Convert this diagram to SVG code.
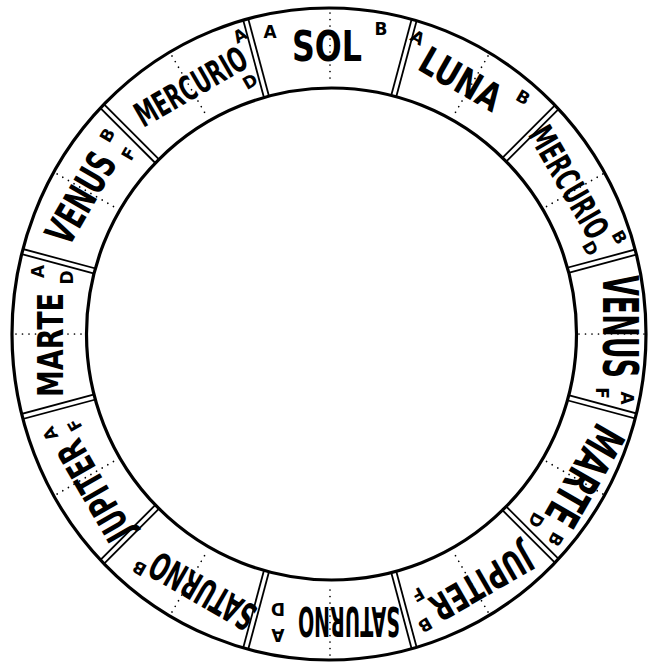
<svg xmlns="http://www.w3.org/2000/svg" width="649" height="665" viewBox="0 0 649 665">
<style>
.ring{fill:none;stroke:#000;stroke-width:3.2}
.dot{stroke:#000;stroke-width:1.7;stroke-linecap:round;stroke-dasharray:0 6.5;fill:none}
.name{font-family:"DejaVu Sans Condensed","DejaVu Sans",sans-serif;font-weight:bold;text-anchor:middle;fill:#000}
.mk{font-family:"DejaVu Sans",sans-serif;font-weight:bold;font-size:17px;text-anchor:middle;fill:#000}
</style>
<defs>
<clipPath id="ringclip"><path clip-rule="evenodd" d="M12,334a317,326 0 1,0 634,0a317,326 0 1,0 -634,0ZM86.5,334a245,246 0 1,0 490,0a245,246 0 1,0 -490,0Z"/></clipPath>
<g id="dv" stroke="#000" stroke-width="1.8"><line x1="-2.6" y1="-225" x2="-2.6" y2="-345"/><line x1="2.6" y1="-225" x2="2.6" y2="-345"/></g>
</defs>
<rect width="649" height="665" fill="#fff"/>
<g id="connectors" clip-path="url(#ringclip)">
<use href="#dv" transform="translate(330,334) rotate(15)"/>
<use href="#dv" transform="translate(330,334) rotate(45)"/>
<use href="#dv" transform="translate(330,334) rotate(75)"/>
<use href="#dv" transform="translate(330,334) rotate(105)"/>
<use href="#dv" transform="translate(330,334) rotate(135)"/>
<use href="#dv" transform="translate(330,334) rotate(165)"/>
<use href="#dv" transform="translate(330,334) rotate(195)"/>
<use href="#dv" transform="translate(330,334) rotate(225)"/>
<use href="#dv" transform="translate(330,334) rotate(255)"/>
<use href="#dv" transform="translate(330,334) rotate(285)"/>
<use href="#dv" transform="translate(330,334) rotate(315)"/>
<use href="#dv" transform="translate(330,334) rotate(345)"/>
</g>
<g id="rings">
<ellipse class="ring" cx="329" cy="334" rx="317" ry="326"/>
<ellipse class="ring" cx="331.5" cy="334" rx="245" ry="246"/>
</g>
<g id="sol" transform="translate(330,48)">
<line class="dot" x1="0" y1="-35" x2="0" y2="35"/>
<text class="name" transform="translate(-3,12.5) scale(1,1.193)" font-size="35.2" textLength="70" lengthAdjust="spacingAndGlyphs">SOL</text>
<text class="mk" x="-60" y="-9.8">A</text>
<text class="mk" x="51" y="-12.8">B</text>
</g>
<g id="luna" transform="translate(470.5,86.3) rotate(30)">
<line class="dot" x1="0" y1="-35" x2="0" y2="35"/>
<text class="name" transform="translate(-12,12) scale(1,1.189)" font-size="31.95" textLength="88" lengthAdjust="spacingAndGlyphs">LUNA</text>
<text class="mk" x="-70" y="-9.8">A</text>
<text class="mk" x="51" y="-10.8">B</text>
</g>
<g id="mercurio-r" transform="translate(573.4,191) rotate(60)">
<line class="dot" x1="0" y1="-34" x2="0" y2="34"/>
<text class="name" transform="translate(-10,11.5) scale(1,1.478)" font-size="23" textLength="124" lengthAdjust="spacingAndGlyphs">MERCURIO</text>
<text class="mk" x="63" y="-10.8">B</text>
<text class="mk" x="58" y="20.2">D</text>
</g>
<g id="venus-r" transform="translate(611,334) rotate(90)">
<line class="dot" x1="0" y1="-33" x2="0" y2="33"/>
<text class="name" transform="translate(-7.5,8.5) scale(1,1.672)" font-size="29.9" textLength="103" lengthAdjust="spacingAndGlyphs">VENUS</text>
<text class="mk" x="64" y="-9.8">A</text>
<text class="mk" x="59" y="15.2">F</text>
</g>
<g id="marte-r" transform="translate(573.4,477) rotate(120)">
<line class="dot" x1="0" y1="-34" x2="0" y2="34"/>
<text class="name" transform="translate(-6.5,7) scale(1,1.484)" font-size="31" textLength="109" lengthAdjust="spacingAndGlyphs">MARTE</text>
<text class="mk" x="63" y="-9.8">B</text>
<text class="mk" x="56" y="16.7">D</text>
</g>
<g id="jupiter-r" transform="translate(470.5,581.7) rotate(150)">
<line class="dot" x1="0" y1="-35" x2="0" y2="35"/>
<text class="name" transform="translate(-9,7) scale(1,1.352)" font-size="28.1" textLength="112" lengthAdjust="spacingAndGlyphs">JUPITER</text>
<text class="mk" x="61" y="-8.8">B</text>
<text class="mk" x="52" y="21.2">F</text>
</g>
<g id="saturno-b" transform="translate(330,620) rotate(180)">
<line class="dot" x1="0" y1="-35" x2="0" y2="35"/>
<text class="name" transform="translate(-19,13) scale(1,1.961)" font-size="20.4" textLength="102" lengthAdjust="spacingAndGlyphs">SATURNO</text>
<text class="mk" x="52" y="-8.8">A</text>
<text class="mk" x="52" y="16.7">D</text>
</g>
<g id="saturno-bl" transform="translate(189.5,581.7) rotate(210)">
<line class="dot" x1="0" y1="-35" x2="0" y2="35"/>
<text class="name" transform="translate(-16,12) scale(1,1.61)" font-size="23.6" textLength="116" lengthAdjust="spacingAndGlyphs">SATURNO</text>
<text class="mk" x="50" y="-7.4">B</text>
</g>
<g id="jupiter-l" transform="translate(86.6,477) rotate(240)">
<line class="dot" x1="0" y1="-34" x2="0" y2="34"/>
<text class="name" transform="translate(-16,13.5) scale(1,1.377)" font-size="27.6" textLength="110" lengthAdjust="spacingAndGlyphs">JUPITER</text>
<text class="mk" x="55.5" y="-3.8">A</text>
<text class="mk" x="51" y="21.7">F</text>
</g>
<g id="marte-l" transform="translate(49,334) rotate(270)">
<line class="dot" x1="0" y1="-33" x2="0" y2="33"/>
<text class="name" transform="translate(-11,14) scale(1,1.216)" font-size="29.6" textLength="104" lengthAdjust="spacingAndGlyphs">MARTE</text>
<text class="mk" x="62.5" y="-5.3">A</text>
<text class="mk" x="56.5" y="23.7">D</text>
</g>
<g id="venus-l" transform="translate(86.6,191) rotate(300)">
<line class="dot" x1="0" y1="-34" x2="0" y2="34"/>
<text class="name" transform="translate(-9,13) scale(1,1.439)" font-size="28.5" textLength="98" lengthAdjust="spacingAndGlyphs">VENUS</text>
<text class="mk" x="58.7" y="-4.1">B</text>
<text class="mk" x="53.4" y="23.7">F</text>
</g>
<g id="mercurio-l" transform="translate(189.5,86.3) rotate(330)">
<line class="dot" x1="0" y1="-35" x2="0" y2="35"/>
<text class="name" transform="translate(1,13) scale(1,1.478)" font-size="23" textLength="124" lengthAdjust="spacingAndGlyphs">MERCURIO</text>
<text class="mk" x="69" y="-12.8">A</text>
<text class="mk" x="55" y="32.2">D</text>
</g>
</svg>
